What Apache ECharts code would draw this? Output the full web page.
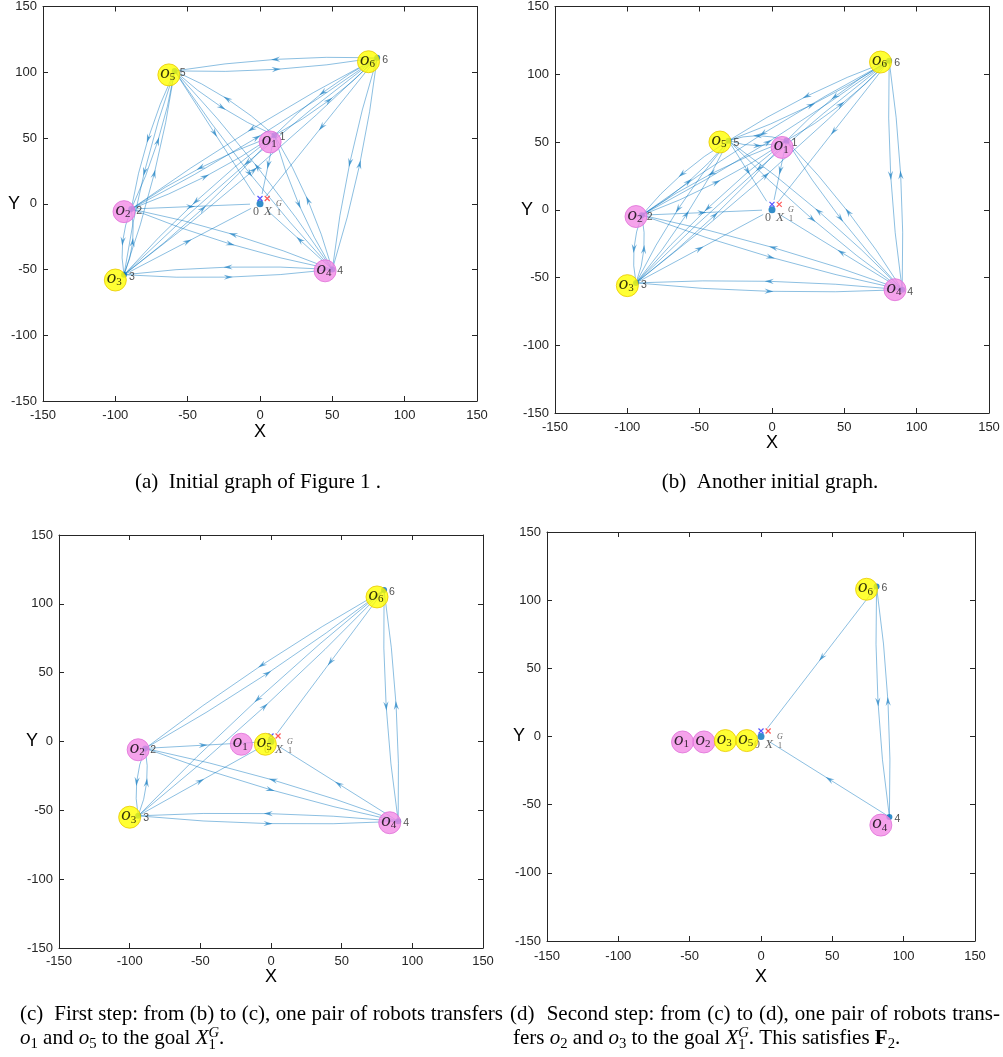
<!DOCTYPE html>
<html><head><meta charset="utf-8">
<script src="https://cdn.jsdelivr.net/npm/echarts@6/dist/echarts.min.js"></script>
<style>html,body{margin:0;padding:0;background:#fff}#c{width:1003px;height:1057px}</style>
</head><body><div id="c"></div>
<script>
// ================= DATA =================
const axisMin = -150, axisMax = 150, axisStep = 50;
const robotIds  = [1, 2, 3, 4, 5, 6];
const robotKind = ['m', 'm', 'y', 'm', 'y', 'y'];   // m = pink robot, y = yellow robot
const goalXY      = [0, 0];
const goalMarkBlue = [0, 4];
const goalMarkRed  = [5, 4];

// (a) initial graph of Figure 1
const aRobotX = [7, -94, -100, 45, -63, 75];
const aRobotY = [47, -6, -58, -51, 98, 108];
const aNodeIds = [1, 2, 3, 4, 5, 6];
const aNodeX = [10, -89, -94, 50, -59, 81];
const aNodeY = [52, -4, -54, -50, 101, 111];
const aPairs = [[1,2],[1,3],[1,4],[1,5],[1,6],[2,3],[2,4],[2,5],[2,6],[3,4],[3,5],[3,6],[4,5],[4,6],[5,6]];
const aGoalEdges = [1, 2, 3, 4, 5, 6];

// (b) another initial graph
const bRobotX = [7, -94, -100, 85, -36, 75];
const bRobotY = [46, -5, -56, -59, 50, 109];
const bNodeIds = [1, 2, 3, 4, 5, 6];
const bNodeX = [10, -90, -94, 90, -30, 81];
const bNodeY = [51, -4, -54, -59, 51, 110];
const bPairs = [[1,2],[1,3],[1,4],[1,5],[1,6],[2,3],[2,4],[2,5],[2,6],[3,4],[3,5],[3,6],[4,5],[4,6],[5,6]];
const bGoalEdges = [1, 2, 3, 4, 5, 6];

// (c) first step
const cRobotX = [-21, -94, -100, 84, -4, 75];
const cRobotY = [-2, -6, -55, -59, -2, 105];
const cNodeIds = [2, 3, 4, 6];
const cNodeX = [-89, -94, 90, 80];
const cNodeY = [-5, -54, -58, 110];
const cPairs = [[2,3],[2,4],[2,6],[3,4],[3,6],[4,6]];
const cGoalEdges = [2, 3, 4, 6];

// (d) second step
const dRobotX = [-55, -40, -25, 84, -10, 74];
const dRobotY = [-4, -4, -3, -65, -3, 108];
const dNodeIds = [4, 6];
const dNodeX = [90, 81];
const dNodeY = [-59, 110];
const dPairs = [[4,6]];
const dGoalEdges = [4, 6];

// captions
const capA = '(a)  Initial graph of Figure 1 .';
const capB = '(b)  Another initial graph.';
const capC1 = '(c)  First step: from (b) to (c), one pair of robots transfers';
const capD1 = '(d)  Second step: from (c) to (d), one pair of robots trans-';

// ================= STYLE / LAYOUT =================
const SANS = '"Liberation Sans", Arial, Helvetica, sans-serif';
const SERIF = '"Liberation Serif", "Times New Roman", serif';
const AX = '#262626';
const EDGE = 'rgba(0,114,189,0.45)';
const ARROW = 'rgba(0,114,189,0.6)';
const BEND = 5, GOAL_GAP = 10;

const panels = [
  {grid:{left:43, top:5, width:434, height:396}, xGap:22, yGap:23, xm:8,
   rx:aRobotX, ry:aRobotY, ids:aNodeIds, nx:aNodeX, ny:aNodeY, pairs:aPairs, ge:aGoalEdges},
  {grid:{left:555, top:5, width:434, height:408}, xGap:21, yGap:22, xm:8,
   rx:bRobotX, ry:bRobotY, ids:bNodeIds, nx:bNodeX, ny:bNodeY, pairs:bPairs, ge:bGoalEdges},
  {grid:{left:59, top:535, width:424, height:413}, xGap:20, yGap:21, xm:7,
   rx:cRobotX, ry:cRobotY, ids:cNodeIds, nx:cNodeX, ny:cNodeY, pairs:cPairs, ge:cGoalEdges},
  {grid:{left:547, top:532, width:428, height:409}, xGap:27, yGap:22, xm:9,
   rx:dRobotX, ry:dRobotY, ids:dNodeIds, nx:dNodeX, ny:dNodeY, pairs:dPairs, ge:dGoalEdges}
];

function buildEdges(p) {
  const pos = id => { const k = p.ids.indexOf(id); return [p.nx[k], p.ny[k]]; };
  const out = [];
  p.pairs.forEach(([i, j]) => {
    out.push([...pos(i), ...pos(j), 1, 0]);
    out.push([...pos(j), ...pos(i), 1, 0]);
  });
  p.ge.forEach(i => out.push([...pos(i), goalXY[0], goalXY[1], 0, 1]));
  return out;
}

function renderEdge(params, api) {
  const a = api.coord([api.value(0), api.value(1)]);
  const b = api.coord([api.value(2), api.value(3)]);
  const curved = api.value(4), shorten = api.value(5);
  const dx = b[0] - a[0], dy = b[1] - a[1];
  const L = Math.hypot(dx, dy);
  const ux = dx / L, uy = dy / L;
  const end = shorten ? [b[0] - ux * GOAL_GAP, b[1] - uy * GOAL_GAP] : b;
  const nx = -uy, ny = ux;
  const h = curved ? BEND : 0;
  const cp = [(a[0] + end[0]) / 2 + nx * 2 * h, (a[1] + end[1]) / 2 + ny * 2 * h];
  const m = [(a[0] + end[0]) / 2 + nx * h, (a[1] + end[1]) / 2 + ny * h];
  const AL = 4.5, AW = 2.6;
  const tip = [m[0] + ux * AL, m[1] + uy * AL];
  const bl = [m[0] - ux * AL + nx * AW, m[1] - uy * AL + ny * AW];
  const br = [m[0] - ux * AL - nx * AW, m[1] - uy * AL - ny * AW];
  const notch = [m[0] - ux * AL * 0.3, m[1] - uy * AL * 0.3];
  return {type:'group', children:[
    {type:'bezierCurve', shape:{x1:a[0], y1:a[1], x2:end[0], y2:end[1], cpx1:cp[0], cpy1:cp[1]},
     style:{stroke:EDGE, lineWidth:1, fill:null}},
    {type:'polygon', shape:{points:[tip, bl, notch, br]}, style:{fill:ARROW}}
  ]};
}

const grids = [], xAxes = [], yAxes = [], series = [];
const tickLabel = {color:AX, fontSize:13, fontFamily:SANS};
const tickStyle = {show:true, inside:true, length:5, lineStyle:{color:AX, width:1}};
const lineStyle = {show:true, onZero:false, lineStyle:{color:AX, width:1}};
const crossPath = 'path://M0,0L10,10M10,0L0,10';

panels.forEach((p, k) => {
  grids.push(Object.assign({containLabel:false}, p.grid));
  const base = {type:'value', gridIndex:k, min:axisMin, max:axisMax, interval:axisStep,
                splitLine:{show:false}, axisLine:lineStyle, axisTick:tickStyle};
  xAxes.push(Object.assign({}, base, {position:'bottom', axisLabel:Object.assign({margin:p.xm}, tickLabel),
    name:'X', nameLocation:'middle', nameGap:p.xGap, nameMoveOverlap:false,
    nameTextStyle:{fontSize:18, color:'#000', fontFamily:SANS}}));
  xAxes.push(Object.assign({}, base, {position:'top', axisLabel:{show:false}}));
  yAxes.push(Object.assign({}, base, {position:'left', axisLabel:Object.assign({margin:6}, tickLabel),
    name:'Y', nameLocation:'middle', nameGap:p.yGap, nameRotate:0, nameMoveOverlap:false,
    nameTextStyle:{fontSize:18, color:'#000', fontFamily:SANS}}));
  yAxes.push(Object.assign({}, base, {position:'right', axisLabel:{show:false}}));

  const xi = 2 * k, yi = 2 * k;
  // edges
  series.push({type:'custom', xAxisIndex:xi, yAxisIndex:yi, z:1, silent:true,
    data:buildEdges(p), encode:{x:[0,2], y:[1,3]}, renderItem:renderEdge});
  // graph nodes (blue dots + numbers)
  series.push({type:'scatter', xAxisIndex:xi, yAxisIndex:yi, z:2, symbolSize:6,
    itemStyle:{color:'#0072bd'},
    data:p.ids.map((id, j) => [p.nx[j], p.ny[j], id]),
    label:{show:true, position:'right', distance:2, offset:[0,2], formatter:q => String(q.value[2]),
      fontSize:10.5, fontFamily:SANS, color:AX}});
  // goal dot
  series.push({type:'scatter', xAxisIndex:xi, yAxisIndex:yi, z:3, symbolSize:7,
    itemStyle:{color:'#0072bd'}, data:[goalXY]});
  // goal crosses
  series.push({type:'scatter', xAxisIndex:xi, yAxisIndex:yi, z:3, symbol:crossPath, symbolSize:5,
    itemStyle:{color:'rgba(0,0,0,0)', borderColor:'#2a2aff', borderWidth:1.2}, data:[goalMarkBlue]});
  series.push({type:'scatter', xAxisIndex:xi, yAxisIndex:yi, z:3, symbol:crossPath, symbolSize:5,
    itemStyle:{color:'rgba(0,0,0,0)', borderColor:'#ff3030', borderWidth:1.2}, data:[goalMarkRed]});
  // goal text labels
  const gl = (txt, off, font, size, style) => ({value:goalXY, label:{show:true, position:'inside',
    formatter:txt, offset:off, fontFamily:font, fontSize:size, fontStyle:style, color:'#3a3a3a'}});
  series.push({type:'scatter', xAxisIndex:xi, yAxisIndex:yi, z:3, symbolSize:1,
    itemStyle:{color:'rgba(0,0,0,0)'},
    data:[gl('0', [-4, 8], SERIF, 12, 'normal'), gl('X', [8, 8], SERIF, 13, 'italic'),
          gl('G', [19, 0], SERIF, 8, 'italic'), gl('1', [19, 9], SERIF, 8, 'normal')]});
  // robots
  series.push({type:'scatter', xAxisIndex:xi, yAxisIndex:yi, z:4, symbolSize:22,
    data:robotIds.map((id, j) => ({value:[p.rx[j], p.ry[j], id],
      itemStyle: robotKind[j] === 'y'
        ? {color:'#ffff00', borderColor:'#e8c800', borderWidth:1}
        : {color:'#f28be6', borderColor:'#e070d8', borderWidth:1}})),
    label:{show:true, position:'inside', offset:[-1,-2], formatter:q => `{o|o}{s|${q.value[2]}}`,
      rich:{o:{fontFamily:SERIF, fontStyle:'italic', fontSize:19, lineHeight:20, color:'#000'},
            s:{fontFamily:SERIF, fontSize:11, lineHeight:9, color:'#000', verticalAlign:'bottom'}}}});
});

// ---------- captions (text layout helper) ----------
const mctx = document.createElement('canvas').getContext('2d');
const fstr = (size, it, b) => (it ? 'italic ' : '') + (b ? 'bold ' : '') + size + 'px ' + SERIF;
const tw = (t, f) => { mctx.font = f; return mctx.measureText(t).width; };
function textEl(t, x, base, size, font) {
  return {type:'text', x:x, y:base - 0.32 * size, style:{text:t, font:font, fill:'#000', align:'left', verticalAlign:'middle'}};
}
function line(tokens, size, opt) {
  const sm = Math.round(size * 0.7 * 10) / 10;
  const pcs = [];
  tokens.forEach(tk => {
    if (typeof tk === 'string') tk = {t:tk};
    if (tk.stack) {
      const f1 = fstr(sm, true, false), f2 = fstr(sm, false, false);
      pcs.push({k:'stack', a:tk.stack[0], b:tk.stack[1], f1, f2, w:Math.max(tw(tk.stack[0], f1), tw(tk.stack[1], f2))});
    } else if (tk.sub) {
      const f = fstr(sm, false, false);
      pcs.push({k:'sub', t:tk.sub, f, w:tw(tk.sub, f)});
    } else {
      const f = fstr(size, tk.it, tk.b);
      tk.t.split(/( )/).forEach(s => { if (s) pcs.push({k:s === ' ' ? 'sp' : 'w', t:s, f, w:tw(s, f)}); });
    }
  });
  const total = pcs.reduce((s, q) => s + q.w, 0);
  const nsp = pcs.filter(q => q.k === 'sp').length;
  const extra = opt.justify ? (opt.justify - total) / nsp : 0;
  let x = opt.center !== undefined ? opt.center - total / 2 : opt.x;
  const els = [];
  pcs.forEach(q => {
    if (q.k === 'sp') { x += q.w + extra; return; }
    if (q.k === 'stack') {
      els.push(textEl(q.a, x, opt.base - size * 0.36, sm, q.f1));
      els.push(textEl(q.b, x, opt.base + size * 0.22, sm, q.f2));
    } else if (q.k === 'sub') {
      els.push(textEl(q.t, x, opt.base + size * 0.2, sm, q.f));
    } else {
      els.push(textEl(q.t, x, opt.base, size, q.f));
    }
    x += q.w;
  });
  return els;
}
const capSize = 21;
const graphics = [].concat(
  line([capA], capSize, {center:258, base:489}),
  line([capB], capSize, {center:770, base:489}),
  line([capC1], capSize, {x:20, base:1021.5, justify:483}),
  line([{t:'o', it:true}, {sub:'1'}, ' and ', {t:'o', it:true}, {sub:'5'}, ' to the goal ',
        {t:'X', it:true}, {stack:['G', '1']}, '.'], capSize, {x:20, base:1045}),
  line([capD1], capSize, {x:510, base:1021.5, justify:490}),
  line(['fers ', {t:'o', it:true}, {sub:'2'}, ' and ', {t:'o', it:true}, {sub:'3'}, ' to the goal ',
        {t:'X', it:true}, {stack:['G', '1']}, '. This satisfies ', {t:'F', b:true}, {sub:'2'}, '.'],
       capSize, {x:513, base:1045})
);

const chart = echarts.init(document.getElementById('c'), null, {renderer:'canvas'});
chart.setOption({
  animation:false,
  backgroundColor:'#ffffff',
  grid:grids, xAxis:xAxes, yAxis:yAxes, series:series,
  graphic:{elements:graphics}
});
</script>
</body></html>
